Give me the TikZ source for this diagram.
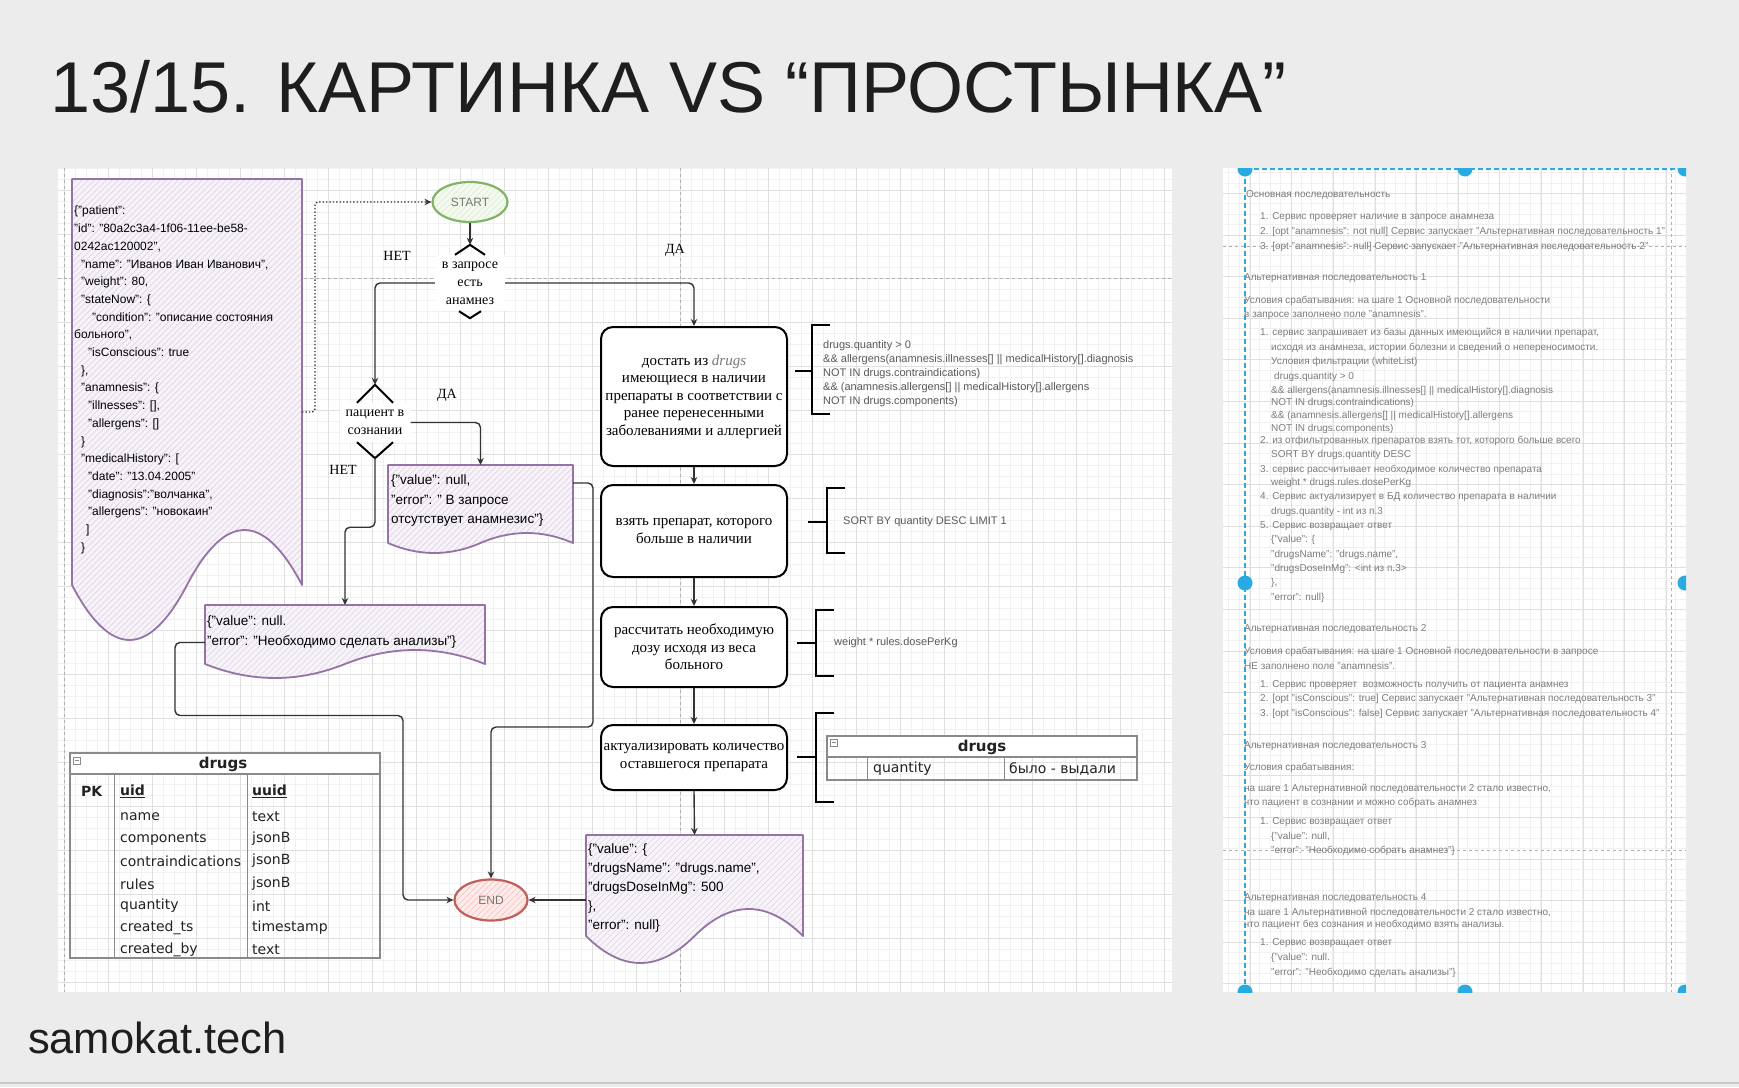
\documentclass[tikz,border=0pt]{standalone}
\usepackage{fontspec}
\setmainfont{Liberation Sans}
\newfontfamily\serifface{Liberation Serif}
\newfontfamily\dejaface{DejaVu Sans}
\usetikzlibrary{arrows.meta,calc,shapes.geometric}

\definecolor{pagebg}{HTML}{ECECEC}
\definecolor{footline}{HTML}{C8C8C8}
\definecolor{titlec}{HTML}{1E1E1E}
\definecolor{ink}{HTML}{333333}
\definecolor{gridmin}{HTML}{F1F1F1}
\definecolor{gridmaj}{HTML}{DFDFDF}
\definecolor{pagebrk}{HTML}{B0B0B0}
\definecolor{docline}{HTML}{9673A6}
\definecolor{docfill}{HTML}{F7F3F9}
\definecolor{dochatch}{HTML}{E0D3E8}
\definecolor{startline}{HTML}{82B366}
\definecolor{startfill}{HTML}{F5FAF1}
\definecolor{starthatch}{HTML}{D8EACB}
\definecolor{endline}{HTML}{C0605B}
\definecolor{endfill}{HTML}{FCEDEC}
\definecolor{endhatch}{HTML}{F2BDBA}
\definecolor{annot}{HTML}{5A5A5A}
\definecolor{tabline}{HTML}{8A8A8A}
\definecolor{tabtext}{HTML}{222222}
\definecolor{selblue}{HTML}{29ABE2}
\definecolor{rptextc}{HTML}{7C7C7C}
\definecolor{sketchgray}{HTML}{777777}

\newcommand\fsz[2]{\fontsize{#1}{#2}\selectfont}

% document shape with a wavy lower edge: style, x0, y0, width, baseline of wave, wave amplitude
\newcommand\wavedoc[6]{%
  \path[#1] (#2,#3) -- ({#2+#4},#3) -- ({#2+#4},#5)
    .. controls ({#2+5*#4/6},{#5-2*#6/3}) and ({#2+2*#4/3},{#5-2*#6/3}) .. ({#2+#4/2},#5)
    .. controls ({#2+#4/3},{#5+2*#6/3}) and ({#2+#4/6},{#5+2*#6/3}) .. (#2,#5) -- cycle;}

\newcounter{rpc}
\newcommand\rpline[3]{\stepcounter{rpc}\node[rptext] (rp\arabic{rpc}) at (#1,#2) {#3};}

\tikzset{
  txt/.style={inner sep=0pt, outer sep=0pt},
  hatch/.style={path picture={\foreach \hk in {-720,-714,...,320}{\draw[#1, line width=0.6pt] (path picture bounding box.south west) ++(\hk,0) -- ++(720,-720);}}},
  conn/.style={draw=ink, line width=1.4pt, rounded corners=5pt, -{Stealth[length=7pt,width=6.5pt]}},
  dotconn/.style={draw=ink, line width=1.4pt, dotted, rounded corners=3pt, -{Stealth[length=7pt,width=6.5pt]}},
  chev/.style={draw=black, line width=2pt, line join=miter},
  brk/.style={draw=black, line width=2pt, line join=miter},
  proc/.style={draw=black, line width=2pt, rounded corners=12pt, fill=white, minimum width=186pt, inner sep=2pt, align=center, font=\serifface\fsz{15}{17.5}},
  decbox/.style={fill=white, inner sep=0pt, align=center, font=\serifface\fsz{14}{18}},
  lbl/.style={inner sep=0pt, font=\serifface\fsz{14}{16}},
  docarea/.style={inner sep=0pt, outer sep=0pt},
  docshape/.style={draw=docline, line width=1.8pt, line join=round, fill=docfill, hatch=dochatch},
  doctext/.style={inner sep=0pt, anchor=west, align=left, text=black},
  annot/.style={inner sep=0pt, anchor=west, align=left, text=annot, font=\fsz{11}{14}},
  tabtxt/.style={inner sep=0pt, anchor=west, text=tabtext, font=\dejaface\fsz{14}{16}},
  rptext/.style={inner sep=0pt, anchor=west, text=rptextc, font=\fsz{10}{12}, text height=7pt, text depth=2pt},
}

\begin{document}
\begin{tikzpicture}[x=1pt,y=-1pt]
\useasboundingbox (0,0) rectangle (1739,1087);
\fill[pagebg] (0,0) rectangle (1739,1087);
\draw[footline, line width=2pt] (0,1083) -- (1739,1083);

% ---------- title and footer ----------
\node[txt, anchor=base west, font=\fsz{72}{82}, text=titlec] (title) at (50,112) {13/15. КАРТИНКА VS “ПРОСТЫНКА”};
\node[txt, anchor=base west, font=\fsz{43.5}{50}, text=titlec] (foot) at (28,1053) {samokat.tech};

% ---------- left canvas with grid ----------
\begin{scope}
  \clip (58,168) rectangle (1172,992);
  \fill[white] (58,168) rectangle (1172,992);
  \foreach \gx in {53,64,...,1175} \draw[gridmin, line width=0.7pt] (\gx,168) -- (\gx,992);
  \foreach \gy in {168,179,...,995} \draw[gridmin, line width=0.7pt] (58,\gy) -- (1172,\gy);
  \foreach \gx in {64,108,...,1175} \draw[gridmaj, line width=0.8pt] (\gx,168) -- (\gx,992);
  \foreach \gy in {190,234,...,995} \draw[gridmaj, line width=0.8pt] (58,\gy) -- (1172,\gy);
  \draw[pagebrk, dashed, line width=1pt] (64,168) -- (64,992);
  \draw[pagebrk, dashed, line width=1pt] (680,168) -- (680,992);
  \draw[pagebrk, dashed, line width=1pt] (58,278) -- (1172,278);
\end{scope}

% ---------- document shapes ----------
\wavedoc{docshape}{72}{179}{230}{585}{110}
\node[docarea, minimum width=230pt, minimum height=406pt] (pat) at (187,382) {};
\node[doctext, font=\fsz{12}{17.7}] (pattxt) at (74,380) {\{"patient":\\
"id": "80a2c3a4-1f06-11ee-be58-\\
0242ac120002",\\
\hspace*{7pt}"name": "Иванов Иван Иванович",\\
\hspace*{7pt}"weight": 80,\\
\hspace*{7pt}"stateNow": \{\\
\hspace*{18pt}"condition": "описание состояния\\
больного",\\
\hspace*{14pt}"isConscious": true\\
\hspace*{7pt}\},\\
\hspace*{7pt}"anamnesis": \{\\
\hspace*{14pt}"illnesses": [],\\
\hspace*{14pt}"allergens": []\\
\hspace*{7pt}\}\\
\hspace*{7pt}"medicalHistory": [\\
\hspace*{14pt}"date": "13.04.2005"\\
\hspace*{14pt}"diagnosis":"волчанка",\\
\hspace*{14pt}"allergens": "новокаин"\\
\hspace*{12pt}]\\
\hspace*{7pt}\}};

\wavedoc{docshape}{388}{465}{185}{543}{20}
\node[docarea, minimum width=185pt, minimum height=78pt] (err1) at (480.5,504) {};
\node[doctext, font=\fsz{13.5}{19.5}] (err1txt) at (391,501) {\{"value": null,\\"error": " В запросе\\отсутствует анамнезис"\}};

\wavedoc{docshape}{205}{605}{280}{664}{28}
\node[docarea, minimum width=280pt, minimum height=59pt] (err2) at (345,634.5) {};
\node[doctext, font=\fsz{13.5}{19.5}] (err2txt) at (207,632) {\{"value": null.\\"error": "Необходимо сделать анализы"\}};

\wavedoc{docshape}{586}{835}{217}{936}{54}
\node[docarea, minimum width=217pt, minimum height=101pt] (res) at (694.5,885.5) {};
\node[doctext, font=\fsz{13.5}{18.8}] (restxt) at (588,888) {\{"value": \{\\"drugsName": "drugs.name",\\"drugsDoseInMg": 500\\\},\\"error": null\}};

% ---------- terminals ----------
\node[ellipse, draw=startline, line width=2.2pt, fill=startfill, hatch=starthatch, minimum width=75pt, minimum height=40pt, inner sep=0pt, font=\fsz{12}{14}, text=sketchgray] (startn) at (470,202) {START};
\node[ellipse, draw=endline, line width=2.2pt, fill=endfill, hatch=endhatch, minimum width=73pt, minimum height=41pt, inner sep=0pt, font=\fsz{12}{14}, text=sketchgray] (endnode) at (491,900) {END};

% ---------- decisions ----------
\node[decbox, minimum width=70pt, minimum height=56pt] (dec1) at (470,283) {в запросе\\есть\\анамнез};
\coordinate (dec1top) at ($(dec1.north)+(0,-10)$);
\draw[chev] ($(dec1.north)+(-15,0)$) -- (dec1top) -- ($(dec1.north)+(15,0)$);
\draw[chev] ($(dec1.south)+(-11,0)$) -- ($(dec1.south)+(0,7)$) -- ($(dec1.south)+(11,0)$);

\node[decbox, minimum width=71pt, minimum height=39pt] (dec2) at (375,422.5) {пациент в\\сознании};
\coordinate (dec2top) at ($(dec2.north)+(0,-18)$);
\coordinate (dec2bot) at ($(dec2.south)+(0,16)$);
\draw[chev] ($(dec2.north)+(-18,0)$) -- (dec2top) -- ($(dec2.north)+(18,0)$);
\draw[chev] ($(dec2.south)+(-18,0)$) -- (dec2bot) -- ($(dec2.south)+(18,0)$);

\node[lbl] (no1) at (397,256) {НЕТ};
\node[lbl] (yes1) at (675,250) {ДА};
\node[lbl] (yes2) at (447,395) {ДА};
\node[lbl] (no2) at (343,470) {НЕТ};

% ---------- process boxes ----------
\node[proc, minimum height=139pt] (box1) at (694,396.5) {достать из {\color{sketchgray}\itshape drugs}\\имеющиеся в наличии\\препараты в соответствии с\\ранее перенесенными\\заболеваниями и аллергией};
\node[proc, minimum height=92pt] (box2) at (694,531) {взять препарат, которого\\больше в наличии};
\node[proc, minimum height=80pt] (box3) at (694,647) {рассчитать необходимую\\дозу исходя из веса\\больного};
\node[proc, minimum height=65pt] (box4) at (694,757.5) {актуализировать количество\\оставшегося препарата};

% ---------- brackets with notes ----------
\draw[brk] (795,371) -- (812,371);
\draw[brk] (830,325) -- (812,325) -- (812,414) -- (830,414);
\node[annot] (note1) at (823,374) {drugs.quantity > 0\\\&\& allergens(anamnesis.illnesses[] || medicalHistory[].diagnosis\\NOT IN drugs.contraindications)\\\&\& (anamnesis.allergens[] || medicalHistory[].allergens\\NOT IN drugs.components)};

\draw[brk] (808,522) -- (827,522);
\draw[brk] (845,488) -- (827,488) -- (827,553) -- (845,553);
\node[annot] (note2) at (843,522) {SORT BY quantity DESC LIMIT 1};

\draw[brk] (797,643) -- (816,643);
\draw[brk] (834,610) -- (816,610) -- (816,676) -- (834,676);
\node[annot] (note3) at (834,643) {weight * rules.dosePerKg};

\draw[brk] (797,757) -- (816,757);
\draw[brk] (834,713) -- (816,713) -- (816,802) -- (834,802);

% small drugs table
\fill[white] (827,736) rectangle (1137,757);
\draw[tabline, line width=1.3pt] (827,736) rectangle (1137,780);
\draw[tabline, line width=1.3pt] (827,757) -- (1137,757);
\draw[tabline, line width=1pt] (867,757) -- (867,780);
\draw[tabline, line width=1pt] (1004,757) -- (1004,780);
\draw[tabline, line width=0.8pt] (830,739) rectangle (837,746);
\draw[tabline, line width=0.8pt] (831.5,742.5) -- (835.5,742.5);
\node[txt, text=tabtext, font=\dejaface\bfseries\fsz{15}{17}] (mtitle) at (982,747) {drugs};
\node[tabtxt] (mq) at (873,769) {quantity};
\node[tabtxt] (mv) at (1009,769) {было - выдали};

% big drugs table
\fill[white] (70,753) rectangle (380,774);
\draw[tabline, line width=1.3pt] (70,753) rectangle (380,958);
\draw[tabline, line width=1.3pt] (70,774) -- (380,774);
\draw[tabline, line width=1pt] (114,774) -- (114,958);
\draw[tabline, line width=1pt] (247,774) -- (247,958);
\draw[tabline, line width=0.8pt] (73,757) rectangle (80,764);
\draw[tabline, line width=0.8pt] (74.5,760.5) -- (78.5,760.5);
\node[txt, text=tabtext, font=\dejaface\bfseries\fsz{15}{17}] (ttitle) at (223,764) {drugs};
\node[tabtxt, font=\dejaface\bfseries\fsz{14}{16}] (tpk) at (81,791) {PK};
\node[tabtxt, font=\dejaface\bfseries\fsz{14}{16}] (tuid) at (120,791) {\underline{uid}};
\node[tabtxt, font=\dejaface\bfseries\fsz{14}{16}] (tuuid) at (252,791) {\underline{uuid}};
\node[tabtxt] (tn1) at (120,817) {name};
\node[tabtxt] (tt1) at (252,817) {text};
\node[tabtxt] (tn2) at (120,839) {components};
\node[tabtxt] (tt2) at (252,839) {jsonB};
\node[tabtxt] (tn3) at (120,861) {contraindications};
\node[tabtxt] (tt3) at (252,861) {jsonB};
\node[tabtxt] (tn4) at (120,884) {rules};
\node[tabtxt] (tt4) at (252,884) {jsonB};
\node[tabtxt] (tn5) at (120,906) {quantity};
\node[tabtxt] (tt5) at (252,906) {int};
\node[tabtxt] (tn6) at (120,928) {created\_ts};
\node[tabtxt] (tt6) at (252,928) {timestamp};
\node[tabtxt] (tn7) at (120,950) {created\_by};
\node[tabtxt] (tt7) at (252,950) {text};

% ---------- connectors ----------
\draw[dotconn] ([yshift=-30pt]pat.east) -- ++(13,0) |- (startn.west);
\draw[conn, line width=2pt] (startn.south) -- (dec1top);
\draw[conn] (dec1.west) -| (dec2top);
\draw[conn] (dec1.east) -| (box1.north);
\draw[conn] (dec2.east) -| (err1.north);
\draw[conn] (dec2bot) -- ++(0,69) -| (err2.north);
\draw[conn] (box1.south) -- (box2.north);
\draw[conn] (box2.south) -- (box3.north);
\draw[conn] (box3.south) -- (box4.north);
\draw[conn] (box4.south) -- (res.north);
\draw[conn] ([yshift=21pt]err1.east) -- ++(20,0) -- ++(0,244) -| (endnode.north);
\draw[conn] ([yshift=-8pt]err2.west) -- ++(-30,0) -- ++(0,73) -- ++(228,0) |- (endnode.west);
\draw[conn] ([yshift=-14.5pt]res.west) -- (endnode.east);

% ---------- right panel: textual description ----------
\begin{scope}
  \clip (1223,168) rectangle (1686,992);
  \fill[white] (1223,168) rectangle (1686,992);
  \foreach \gx in {1218.1,1228.5,...,1690} \draw[gridmin, line width=0.7pt] (\gx,168) -- (\gx,992);
  \foreach \gy in {172.5,182.9,...,995} \draw[gridmin, line width=0.7pt] (1223,\gy) -- (1686,\gy);
  \foreach \gx in {1208.5,1250.1,...,1690} \draw[gridmaj, line width=0.8pt] (\gx,168) -- (\gx,992);
  \foreach \gy in {151.7,193.3,...,995} \draw[gridmaj, line width=0.8pt] (1223,\gy) -- (1686,\gy);
  \draw[pagebrk, dashed, line width=1pt] (1671,168) -- (1671,992);
  \draw[pagebrk, dashed, line width=1pt] (1223,246) -- (1686,246);
  \draw[pagebrk, dashed, line width=1pt] (1223,850) -- (1686,850);

  \rpline{1246}{195}{Основная последовательность}
  \rpline{1260}{217}{1. Сервис проверяет наличие в запросе анамнеза}
  \rpline{1260}{232}{2. [opt "anamnesis": not null] Сервис запускает "Альтернативная последовательность 1"}
  \rpline{1260}{247}{3. [opt "anamnesis": null] Сервис запускает "Альтернативная последовательность 2"}
  \rpline{1244}{278}{Альтернативная последовательность 1}
  \rpline{1244}{301}{Условия срабатывания: на шаге 1 Основной последовательности}
  \rpline{1244}{315}{в запросе заполнено поле "anamnesis".}
  \rpline{1260}{333}{1. сервис запрашивает из базы данных имеющийся в наличии препарат,}
  \rpline{1271}{348}{исходя из анамнеза, истории болезни и сведений о непереносимости.}
  \rpline{1271}{362}{Условия фильтрации (whiteList)}
  \rpline{1274}{377}{drugs.quantity > 0}
  \rpline{1271}{391}{\&\& allergens(anamnesis.illnesses[] || medicalHistory[].diagnosis}
  \rpline{1271}{403}{NOT IN drugs.contraindications)}
  \rpline{1271}{416}{\&\& (anamnesis.allergens[] || medicalHistory[].allergens}
  \rpline{1271}{429}{NOT IN drugs.components)}
  \rpline{1260}{441}{2. из отфильтрованных препаратов взять тот, которого больше всего}
  \rpline{1271}{455}{SORT BY drugs.quantity DESC}
  \rpline{1260}{470}{3. сервис рассчитывает необходимое количество препарата}
  \rpline{1271}{483}{weight * drugs.rules.dosePerKg}
  \rpline{1260}{497}{4. Сервис актуализирует в БД количество препарата в наличии}
  \rpline{1271}{512}{drugs.quantity - int из п.3}
  \rpline{1260}{526}{5. Сервис возвращает ответ}
  \rpline{1271}{540}{\{"value": \{}
  \rpline{1271}{555}{"drugsName": "drugs.name",}
  \rpline{1271}{569}{"drugsDoseInMg": <int из п.3>}
  \rpline{1271}{583}{\},}
  \rpline{1271}{598}{"error": null\}}
  \rpline{1244}{629}{Альтернативная последовательность 2}
  \rpline{1244}{652}{Условия срабатывания: на шаге 1 Основной последовательности в запросе}
  \rpline{1244}{667}{НЕ заполнено поле "anamnesis".}
  \rpline{1260}{685}{1. Сервис проверяет \ возможность получить от пациента анамнез}
  \rpline{1260}{699}{2. [opt "isConscious": true] Сервис запускает "Альтернативная последовательность 3"}
  \rpline{1260}{714}{3. [opt "isConscious": false] Сервис запускает "Альтернативная последовательность 4"}
  \rpline{1244}{746}{Альтернативная последовательность 3}
  \rpline{1244}{768}{Условия срабатывания:}
  \rpline{1244}{789}{на шаге 1 Альтернативной последовательности 2 стало известно,}
  \rpline{1244}{803}{что пациент в сознании и можно собрать анамнез}
  \rpline{1260}{822}{1. Сервис возвращает ответ}
  \rpline{1271}{837}{\{"value": null,}
  \rpline{1271}{851}{"error": "Необходимо собрать анамнез"\}}
  \rpline{1244}{898}{Альтернативная последовательность 4}
  \rpline{1244}{913}{на шаге 1 Альтернативной последовательности 2 стало известно,}
  \rpline{1244}{925}{что пациент без сознания и необходимо взять анализы.}
  \rpline{1260}{943}{1. Сервис возвращает ответ}
  \rpline{1271}{958}{\{"value": null.}
  \rpline{1271}{973}{"error": "Необходимо сделать анализы"\}}

  % selection frame
  \draw[selblue, line width=2pt, dash pattern=on 5pt off 3pt] (1245,992) -- (1245,169) -- (1686,169);
  \foreach \dx/\dy in {1245/169,1465/169,1685/169,1245/583,1685/583,1245/992,1465/992,1685/992}
    \fill[selblue] (\dx,\dy) circle (7.5);
\end{scope}
\end{tikzpicture}
\end{document}
